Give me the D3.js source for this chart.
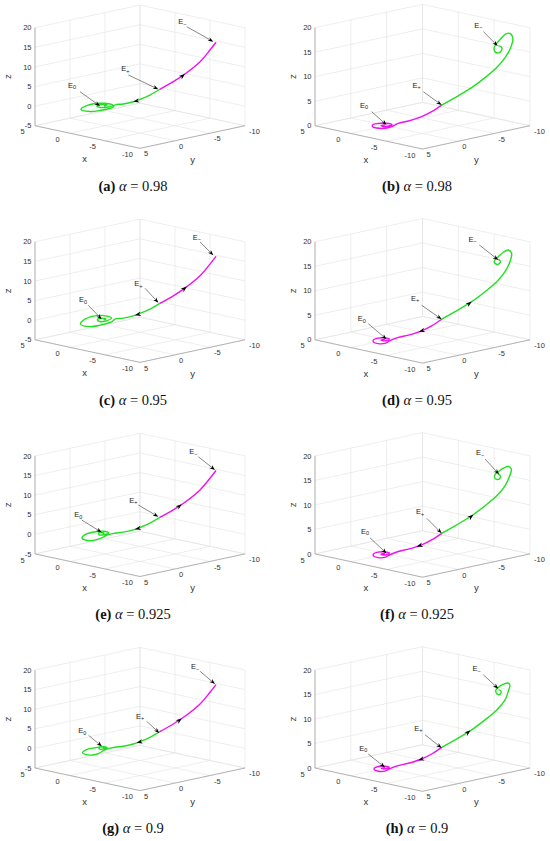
<!DOCTYPE html>
<html>
<head>
<meta charset="utf-8">
<script src="https://cdn.jsdelivr.net/npm/d3@7"></script>
<style>
  body { margin: 0; background: #fff; }
  svg text { font-family: "Liberation Sans", Arial, sans-serif; }
</style>
</head>
<body>
<svg id="fig" width="550" height="841"></svg>
<script>
// tick values
var xTicks = [5, 0, -5, -10];
var yTicks = [5, 0, -5, -10];
var zTicksLeft = [-5, 0, 5, 10, 15, 20];
var zTicksRight = [0, 5, 10, 15, 20];

var letters = ["a", "b", "c", "d", "e", "f", "g", "h"];
var alphas = ["0.98", "0.98", "0.95", "0.95", "0.925", "0.925", "0.9", "0.9"];

// left column (a,c,e,g): magenta climbs E+ -> E-, green falls E+ -> E0
var leftRise = [[-3.89,-3.89,4.23],[-4.88,-4.88,6.22],[-5.71,-5.71,8.19],[-6.79,-6.79,11.33],[-7.5,-7.5,14.31],[-7.93,-7.93,16.28]];
var leftFall = [[-3.89,-3.89,4.23],[-3.21,-3.21,2.83],[-2.5,-2.5,1.73],[-2.02,-2.02,1.12],[-1.31,-1.31,0.54],[-0.71,-0.71,0.28]];

// spirals round E0 (z = 0 plane)
var spiralA = [[-1.0,-0.1,0],[-1.1,1.82,0],[-0.72,2.86,0],[0.65,2.78,0],[1.44,1.17,0],[1.29,-0.57,0],[0.34,-1.05,0],[-0.37,-0.77,0],[-0.51,0.08,0],[-0.11,0.82,0],[0.61,0.54,0],[0.82,-0.25,0],[0.22,-0.51,0],[0.1,0.04,0]];
var spiralC = [[-0.97,-0.04,0],[-1.27,1.98,0],[-1.05,3.2,0],[0.46,3.04,0],[1.79,1.06,0],[2.1,-0.95,0],[1.22,-1.5,0],[0.23,-1.16,0],[-0.28,-0.01,0],[-0.11,0.82,0],[0.74,0.34,0],[0.91,-0.48,0],[0.3,-0.44,0],[0.21,0.01,0]];
var spiralE = [[-0.35,-0.08,0],[-1.1,1.82,0],[-1.05,3.2,0],[0.35,2.94,0],[1.39,1.32,0],[1.51,-0.22,0],[1.1,-0.96,0],[0.28,-0.78,0],[-0.06,0.2,0],[0.3,0.56,0],[0.96,-0.1,0],[0.5,-0.36,0],[0.31,-0.02,0]];
var spiralG = [[-0.37,0.23,0],[-1.2,2.06,0],[-1.16,3.3,0],[0.15,3.07,0],[0.89,1.82,0],[0.92,0.52,0],[0.68,-0.39,0],[0.12,-0.41,0],[-0.09,0.38,0],[0.3,0.56,0],[0.79,-0.08,0],[0.4,-0.33,0],[0.25,0.05,0]];

// right column (b,d,f,h): green climbs E+ -> E-, magenta falls E+ -> E0
var rightRise = [[-3.84,-3.84,4.2],[-4.77,-4.77,5.73],[-5.93,-5.93,7.78],[-6.86,-6.86,9.82],[-7.68,-7.68,11.86],[-8.26,-8.26,13.9]];
var loopB = [[-8.65,-8.65,15.9],[-8.8,-8.8,17.9],[-8.6,-8.6,18.85],[-8.3,-8.3,18.7],[-7.95,-7.95,17.7],[-7.65,-7.65,16.7],[-7.5,-7.5,15.9],[-7.55,-7.55,15.1],[-7.8,-7.8,14.85],[-8.02,-8.02,15.4],[-8.0,-8.0,16.1],[-7.8,-7.8,16.3]];
var loopD = [[-8.6,-8.6,15.94],[-8.72,-8.72,17.65],[-8.49,-8.49,18.33],[-8.14,-8.14,17.86],[-7.79,-7.79,16.96],[-7.56,-7.56,16.37],[-7.52,-7.52,15.76],[-7.66,-7.66,15.41],[-7.87,-7.87,15.55],[-7.91,-7.91,16.16],[-7.73,-7.73,16.41]];
var loopF = [[-8.58,-8.58,15.9],[-8.7,-8.7,17.3],[-8.5,-8.5,17.85],[-8.15,-8.15,17.5],[-7.8,-7.8,16.8],[-7.57,-7.57,16.25],[-7.53,-7.53,15.6],[-7.67,-7.67,15.2],[-7.88,-7.88,15.35],[-7.92,-7.92,16.0],[-7.75,-7.75,16.3]];
var loopH = [[-8.5,-8.5,15.8],[-8.6,-8.6,16.9],[-8.45,-8.45,17.35],[-8.15,-8.15,17.1],[-7.85,-7.85,16.6],[-7.65,-7.65,16.1],[-7.62,-7.62,15.5],[-7.75,-7.75,15.0],[-7.93,-7.93,15.1],[-7.97,-7.97,15.7],[-7.8,-7.8,16.0]];
var rightFall = [[-3.84,-3.84,4.2],[-3.14,-3.14,2.86],[-2.44,-2.44,1.84],[-1.51,-1.51,0.96],[-0.81,-0.81,0.49]];
var ringB = [[-0.54,-0.34,0],[-0.76,0.72,0],[-0.3,1.37,0],[0.54,1.38,0],[1.22,0.77,0],[1.32,-0.1,0],[0.82,-0.72,0],[0.02,-0.76,0],[-0.26,-0.06,0],[0,0.52,0],[0.46,0.33,0],[0.34,-0.1,0]];
var ringD = [[-0.49,0.03,0],[-1.04,1.28,0],[-0.62,1.83,0],[0.18,1.66,0],[0.84,1.03,0],[1.15,0.06,0],[0.73,-0.49,0],[0.03,-0.42,0],[-0.24,0.47,0],[0.3,0.5,0],[0.25,-0.01,0]];
var ringF = [[-0.5,0.05,0],[-1.0,1.25,0],[-0.6,1.8,0],[0.2,1.62,0],[0.86,1.0,0],[1.17,0.02,0],[0.76,-0.52,0],[0.04,-0.44,0],[-0.22,0.45,0],[0.3,0.5,0],[0.25,0,0]];
var ringH = [[-0.43,-0.04,0],[-0.88,1.12,0],[-0.49,1.63,0],[0.24,1.46,0],[0.83,0.9,0],[1.06,0.09,0],[0.67,-0.43,0],[0.01,-0.37,0],[-0.17,0.41,0],[0.3,0.43,0],[0.25,-0.01,0]];

// flow arrows on the curves: [at, toward]
var greenArrows = [
  [[-2.02,-2.02,1.12],[-1.31,-1.31,0.54]], null,
  [[-2.14,-2.14,1.27],[-1.31,-1.31,0.54]], [[-5.93,-5.93,7.78],[-6.86,-6.86,9.82]],
  [[-2.14,-2.14,1.27],[-1.31,-1.31,0.54]], [[-6.05,-6.05,7.99],[-6.86,-6.86,9.82]],
  [[-2.26,-2.26,1.42],[-1.31,-1.31,0.54]], [[-5.85,-5.85,7.64],[-6.86,-6.86,9.82]]
];
var magentaArrows = [
  [[-5.71,-5.71,8.19],[-6.79,-6.79,11.33]], null,
  [[-5.84,-5.84,8.57],[-6.79,-6.79,11.33]], [[-2.25,-2.25,1.65],[-1.51,-1.51,0.96]],
  [[-5.48,-5.48,7.65],[-6.79,-6.79,11.33]], [[-2.1,-2.1,1.5],[-1.51,-1.51,0.96]],
  [[-5.48,-5.48,7.65],[-6.79,-6.79,11.33]], [[-2.2,-2.2,1.6],[-1.51,-1.51,0.96]]
];

// points the E0 / E+ / E- callouts aim at
var calloutTips = [
  [[0.39,0.32,0],[-3.81,-3.81,4.29],[-7.74,-7.74,16.43]],
  [[0.23,-0.23,0],[-3.84,-3.84,4.22],[-7.75,-7.75,16.27]],
  [[0.54,-0.07,0],[-3.81,-3.81,4.46],[-7.74,-7.74,16.56]],
  [[0.16,-0.16,0],[-3.84,-3.84,4.18],[-7.79,-7.79,16.29]],
  [[0.9,-0.43,0],[-3.81,-3.81,4.49],[-7.86,-7.86,16.4]],
  [[0.16,-0.16,0],[-3.84,-3.84,4.2],[-7.84,-7.84,16.24]],
  [[0.9,-0.46,0],[-3.88,-3.88,3.93],[-7.86,-7.86,16.43]],
  [[0.34,-0.1,0],[-3.84,-3.84,4.08],[-7.79,-7.79,16.18]]
];
var calloutSubs = ["0", "+", "\u2212"];

// layout: callout tail / label offsets in px from the tip
var calloutLayout = [
  [[[-20,-14.3],[-28,-21]], [[-30,-14.3],[-33,-21]], [[-26.6,-15],[-31,-20]]],
  [[[-15,-13.3],[-22.7,-20]], [[-18.4,-13.3],[-25,-20]], [[-14.4,-14.3],[-19.4,-21]]],
  [[[-13.4,-14],[-18.7,-20]], [[-13.3,-14.4],[-20,-19]], [[-13.3,-13.3],[-16.6,-18.3]]],
  [[[-18.4,-15.6],[-25,-20.6]], [[-20,-14],[-26.7,-21.3]], [[-19,-15],[-25.7,-21]]],
  [[[-20,-12.3],[-23.4,-18]], [[-20,-11.7],[-25,-16.7]], [[-16.7,-13.3],[-21.7,-18.3]]],
  [[[-16.7,-15.6],[-21.7,-22.3]], [[-15,-15],[-21.7,-21.6]], [[-14,-15.3],[-19,-22]]],
  [[[-13.3,-11],[-19.7,-16]], [[-12.6,-11.6],[-19.3,-17]], [[-15,-12.7],[-20,-17.7]]],
  [[[-16.7,-13.3],[-21.7,-19.3]], [[-16.7,-13.3],[-23.4,-20]], [[-15,-14],[-21.6,-20]]]
];

var rowStep = 214.1;
var geom = [
  { fx: 140, fy: 148.3, vx: [-105, -22.6], vy: [105, -22.6], vz: [0, -98], zdom: [-5, 20], zt: zTicksLeft, cap: 133 },
  { fx: 422.5, fy: 149, vx: [-107.5, -23.3], vy: [107.5, -23.3], vz: [0, -98], zdom: [0, 20], zt: zTicksRight, cap: 417 }
];

var greenPaths = [leftFall.concat(spiralA), rightRise.concat(loopB), leftFall.concat(spiralC), rightRise.concat(loopD),
                  leftFall.concat(spiralE), rightRise.concat(loopF), leftFall.concat(spiralG), rightRise.concat(loopH)];
var magentaPaths = [leftRise, rightFall.concat(ringB), leftRise, rightFall.concat(ringD),
                    leftRise, rightFall.concat(ringF), leftRise, rightFall.concat(ringH)];

var svg = d3.select("#fig");

function arrowHead(g, tip, ang, len, wid) {
  var c = Math.cos(ang), s = Math.sin(ang);
  var pts = [[0, 0], [-len, wid / 2], [-len * 0.7, 0], [-len, -wid / 2]].map(function(p) {
    return [tip[0] + p[0] * c - p[1] * s, tip[1] + p[0] * s + p[1] * c];
  });
  g.append("path").attr("d", "M" + pts.join("L") + "Z").attr("fill", "#000");
}

letters.forEach(function(letter, i) {
  var col = i % 2, row = Math.floor(i / 2);
  var gm = geom[col];
  var fx = gm.fx, fy = gm.fy + row * rowStep;

  var xs = d3.scaleLinear().domain([-10, 5]).range([0, 1]);
  var ys = d3.scaleLinear().domain([5, -10]).range([0, 1]);
  var zs = d3.scaleLinear().domain(gm.zdom).range([0, 1]);
  function proj(p) {
    var u = xs(p[0]), v = ys(p[1]), w = zs(p[2]);
    return [fx + gm.vx[0] * u + gm.vy[0] * v + gm.vz[0] * w,
            fy + gm.vx[1] * u + gm.vy[1] * v + gm.vz[1] * w];
  }
  var z0 = gm.zdom[0], z1 = gm.zdom[1];
  var g = svg.append("g");

  // grid on the back walls and floor
  var seg = [];
  yTicks.forEach(function(t) { seg.push([[5, t, z0], [5, t, z1]]); seg.push([[5, t, z0], [-10, t, z0]]); });
  xTicks.forEach(function(t) { seg.push([[t, -10, z0], [t, -10, z1]]); seg.push([[t, 5, z0], [t, -10, z0]]); });
  gm.zt.forEach(function(t) { seg.push([[5, 5, t], [5, -10, t]]); seg.push([[5, -10, t], [-10, -10, t]]); });
  g.selectAll(".grid").data(seg).enter().append("line")
    .attr("x1", function(d) { return proj(d[0])[0]; }).attr("y1", function(d) { return proj(d[0])[1]; })
    .attr("x2", function(d) { return proj(d[1])[0]; }).attr("y2", function(d) { return proj(d[1])[1]; })
    .attr("stroke", "#e3e3e3").attr("stroke-width", 0.6);

  // axis lines
  var axes = [[[5, 5, z0], [-10, 5, z0]], [[-10, 5, z0], [-10, -10, z0]], [[5, 5, z0], [5, 5, z1]]];
  g.selectAll(".axis").data(axes).enter().append("line")
    .attr("x1", function(d) { return proj(d[0])[0]; }).attr("y1", function(d) { return proj(d[0])[1]; })
    .attr("x2", function(d) { return proj(d[1])[0]; }).attr("y2", function(d) { return proj(d[1])[1]; })
    .attr("stroke", "#8a8a8a").attr("stroke-width", 0.6);

  // tick labels
  gm.zt.forEach(function(t) {
    var p = proj([5, 5, t]);
    g.append("text").attr("x", p[0] - 3.5).attr("y", p[1]).attr("dy", "0.35em")
      .attr("text-anchor", "end").attr("font-size", 7.5).attr("fill", "#333").text(t);
  });
  xTicks.forEach(function(t) {
    var p = proj([t, 5, z0]);
    g.append("text").attr("x", p[0] - 12.5).attr("y", p[1] + 6).attr("dy", "0.35em")
      .attr("text-anchor", "middle").attr("font-size", 7.5).attr("fill", "#333").text(t);
  });
  yTicks.forEach(function(t) {
    var p = proj([-10, t, z0]);
    g.append("text").attr("x", p[0] + 4).attr("y", p[1] + 5.5).attr("dy", "0.35em")
      .attr("text-anchor", "start").attr("font-size", 7.5).attr("fill", "#333").text(t);
  });

  // axis titles
  var xm = proj([-2.5, 5, z0]), ym = proj([-10, -2.5, z0]), zm = proj([5, 5, (z0 + z1) / 2]);
  g.append("text").attr("x", xm[0] - 3).attr("y", xm[1] + 22).attr("dy", "0.35em")
    .attr("text-anchor", "middle").attr("font-size", 9.5).attr("fill", "#333").text("x");
  g.append("text").attr("x", ym[0]).attr("y", ym[1] + 22.5).attr("dy", "0.35em")
    .attr("text-anchor", "middle").attr("font-size", 9.5).attr("fill", "#333").text("y");
  g.append("text").attr("transform", "translate(" + (zm[0] - (col ? 22 : 27)) + "," + zm[1] + ") rotate(-90)")
    .attr("dy", "0.35em").attr("text-anchor", "middle").attr("font-size", 9.5).attr("fill", "#333").text("z");

  // trajectories
  var line = d3.line().x(function(d) { return proj(d)[0]; }).y(function(d) { return proj(d)[1]; })
    .curve(d3.curveCatmullRom.alpha(0.5));
  g.append("path").attr("d", line(greenPaths[i])).attr("fill", "none")
    .attr("stroke", "#20e020").attr("stroke-width", 1.4).attr("stroke-linejoin", "round");
  g.append("path").attr("d", line(magentaPaths[i])).attr("fill", "none")
    .attr("stroke", "#f010f0").attr("stroke-width", 1.4).attr("stroke-linejoin", "round");

  [greenArrows[i], magentaArrows[i]].forEach(function(a) {
    if (!a) return;
    var p = proj(a[0]), q = proj(a[1]);
    arrowHead(g, p, Math.atan2(q[1] - p[1], q[0] - p[0]), 6, 4.5);
  });

  // callouts
  calloutTips[i].forEach(function(tipPt, k) {
    var tip = proj(tipPt);
    var lay = calloutLayout[i][k];
    var tail = [tip[0] + lay[0][0], tip[1] + lay[0][1]];
    var ang = Math.atan2(tip[1] - tail[1], tip[0] - tail[0]);
    g.append("line").attr("x1", tail[0]).attr("y1", tail[1])
      .attr("x2", tip[0] - 4 * Math.cos(ang)).attr("y2", tip[1] - 4 * Math.sin(ang))
      .attr("stroke", "#555").attr("stroke-width", 0.7);
    arrowHead(g, tip, ang, 5.5, 4);
    var t = g.append("text").attr("x", tip[0] + lay[1][0]).attr("y", tip[1] + lay[1][1]).attr("dy", "0.35em")
      .attr("text-anchor", "middle").attr("font-size", 7.5).attr("fill", "#222");
    t.append("tspan").text("E");
    t.append("tspan").attr("dy", "0.3em").attr("font-size", 5.5).text(calloutSubs[k]);
  });

  // caption
  var cap = svg.append("text").attr("x", gm.cap).attr("y", 190.5 + row * rowStep)
    .attr("text-anchor", "middle").attr("font-size", 14.5).attr("fill", "#111")
    .style("font-family", "'Liberation Serif', 'DejaVu Serif', serif");
  cap.append("tspan").attr("font-weight", "bold").text("(" + letter + ")");
  cap.append("tspan").text(" ");
  cap.append("tspan").attr("font-style", "italic").text("\u03b1");
  cap.append("tspan").text(" = " + alphas[i]);
});
</script>
</body>
</html>
